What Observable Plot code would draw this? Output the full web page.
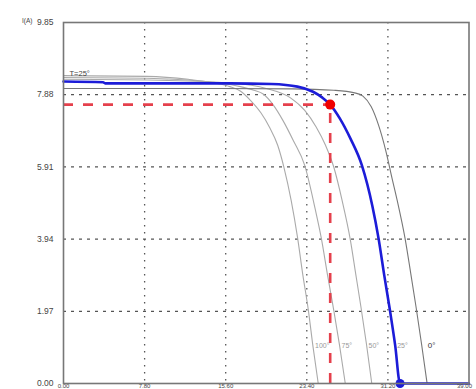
<!DOCTYPE html>
<html><head><meta charset="utf-8">
<script src="https://cdn.jsdelivr.net/npm/d3@7"></script>
<script src="https://cdn.jsdelivr.net/npm/@observablehq/plot@0.6"></script>
<style>html,body{margin:0;padding:0;background:#fff;overflow:hidden}</style>
</head><body><div id="chart"></div>
<script>
// Axis ticks
const xTicks = [0, 7.8, 15.6, 23.4, 31.2, 39.0];
const xTickLabels = ["0.00", "7.80", "15.60", "23.40", "31.20", "39.00"];
const yTicks = [0, 1.97, 3.94, 5.91, 7.88, 9.85];
const yTickLabels = ["0.00", "1.97", "3.94", "5.91", "7.88", "9.85"];
const yUnit = "I(A)";

// I-V curves [voltage V, current A]
const curve100 = [[0,8.40],[8,8.38],[12,8.30],[14.5,8.20],[16,8.10],[17,7.98],[18,7.72],[19,7.38],[19.8,7.00],[20.6,6.50],[21.2,5.90],[21.9,4.99],[22.5,4.00],[23.0,3.00],[23.55,2.00],[24.0,1.00],[24.5,0]];
const curve75 = [[0,8.35],[8,8.33],[12,8.28],[15,8.20],[17,8.10],[18.3,8.00],[19.2,7.90],[20.15,7.61],[21.1,7.18],[22.1,6.63],[23.2,5.95],[24.2,4.77],[24.8,3.96],[25.4,2.95],[26.0,1.99],[26.55,1.04],[27.1,0]];
const curve50 = [[0,8.30],[10,8.27],[16,8.20],[19.5,8.05],[21.8,7.80],[23.2,7.45],[24.3,7.00],[25.2,6.50],[26.0,5.90],[26.8,4.99],[27.6,3.90],[28.1,3.00],[28.6,2.10],[29.15,1.05],[29.65,0]];
const curve25 = [[0,8.24],[3.8,8.22],[4.0,8.19],[16,8.19],[20,8.17],[22.5,8.10],[24.0,7.96],[24.9,7.80],[25.65,7.61],[26.6,7.22],[27.6,6.68],[28.7,5.95],[29.7,4.85],[30.3,3.96],[30.85,2.95],[31.4,1.99],[31.9,1.04],[32.37,0],[39,0]];
const curve0 = [[0,8.05],[15,8.05],[22,8.04],[26,8.00],[28,7.93],[28.8,7.84],[29.6,7.55],[30.3,7.05],[31.0,6.35],[31.6,5.60],[32.1,4.99],[32.85,3.96],[33.4,3.00],[33.9,2.10],[34.45,1.05],[34.97,0]];

const tempLabels = ["100°", "75°", "50°", "25°", "0°"];
const mainLabel = "T=25°";
const mppV = 25.65, mppI = 7.61;
const vocV = 32.37;
const labelCurrent = 1.04;

const grayCurves = [curve100, curve75, curve50, curve0];
const grayNames = ["100°", "75°", "50°", "0°"];
const grayData = grayCurves.flatMap((c, k) => c.map(([V, I]) => ({V, I, T: grayNames[k]})));
const blueData = curve25.map(([V, I]) => ({V, I}));

const allCurves = [curve100, curve75, curve50, curve25, curve0];
const labelData = allCurves.map((c, k) => {
  let best = c[0];
  for (const p of c) if (Math.abs(p[1] - labelCurrent) < Math.abs(best[1] - labelCurrent)) best = p;
  return {V: best[0], I: labelCurrent, t: tempLabels[k], dark: k === 4};
});
const xLabelData = xTicks.map((v, i) => ({v, t: xTickLabels[i], last: i === xTicks.length - 1}));

const chart = Plot.plot({
  width: 476,
  height: 389,
  marginLeft: 63,
  marginRight: 7.5,
  marginTop: 22,
  marginBottom: 6,
  style: {fontFamily: "'Liberation Sans', Arial, sans-serif", fontSize: "8.5px", color: "#444", background: "#fff", overflow: "visible"},
  x: {domain: [0, 39], axis: null},
  y: {domain: [0, 9.85], ticks: yTicks, tickFormat: d => yTickLabels[yTicks.indexOf(d)], tickSize: 0, tickPadding: 10, label: null},
  marks: [
    Plot.ruleX(xTicks.slice(1, -1), {stroke: "#555", strokeWidth: 1.3, strokeDasharray: "1.5,5.5"}),
    Plot.ruleY(yTicks.slice(1, -1), {stroke: "#555", strokeWidth: 1.2, strokeDasharray: "3,5"}),
    Plot.line(grayData, {x: "V", y: "I", z: "T", stroke: d => d.T === "0°" ? "#777" : "#aaa", strokeWidth: 1.1, curve: "monotone-x"}),
    Plot.ruleY([mppI], {x1: 0, x2: mppV, stroke: "#e5404c", strokeWidth: 2.6, strokeDasharray: "10,10"}),
    Plot.ruleX([mppV], {y1: 0, y2: mppI, stroke: "#e5404c", strokeWidth: 2.6, strokeDasharray: "10,10"}),
    Plot.line(blueData, {x: "V", y: "I", stroke: "#1c1cd8", strokeWidth: 2.6, curve: "monotone-x"}),
    Plot.dot([{V: mppV, I: mppI}], {x: "V", y: "I", r: 5, fill: "#f00000", stroke: "none"}),
    Plot.dot([{V: vocV, I: 0}], {x: "V", y: "I", r: 4.5, fill: "#1c1cd8", stroke: "none"}),
    Plot.text(labelData.filter(d => !d.dark), {x: "V", y: "I", text: "t", textAnchor: "start", dx: 2, fontSize: 7, fill: "#999"}),
    Plot.text(labelData.filter(d => d.dark), {x: "V", y: "I", text: "t", textAnchor: "start", dx: 6, fontSize: 8, fill: "#333"}),
    Plot.text([mainLabel], {x: 0, y: curve100[0][1], text: d => d, textAnchor: "start", dx: 6, dy: -2, fontSize: 7.5, fill: "#444"}),
    Plot.text([yUnit], {x: 0, y: yTicks[yTicks.length - 1], text: d => d, textAnchor: "end", dx: -31, dy: -2, fontSize: 6.5, fill: "#444"}),
    Plot.text(xLabelData.filter(d => !d.last), {x: "v", y: 0, text: "t", lineAnchor: "top", dy: 0.5, fontSize: 6, fill: "#444"}),
    Plot.text(xLabelData.filter(d => d.last), {x: "v", y: 0, text: "t", lineAnchor: "top", textAnchor: "end", dx: 3, dy: 0.5, fontSize: 6, fill: "#444"}),
    Plot.frame({stroke: "#777", strokeWidth: 1.6})
  ]
});
document.getElementById("chart").appendChild(chart);
</script>
</body></html>
